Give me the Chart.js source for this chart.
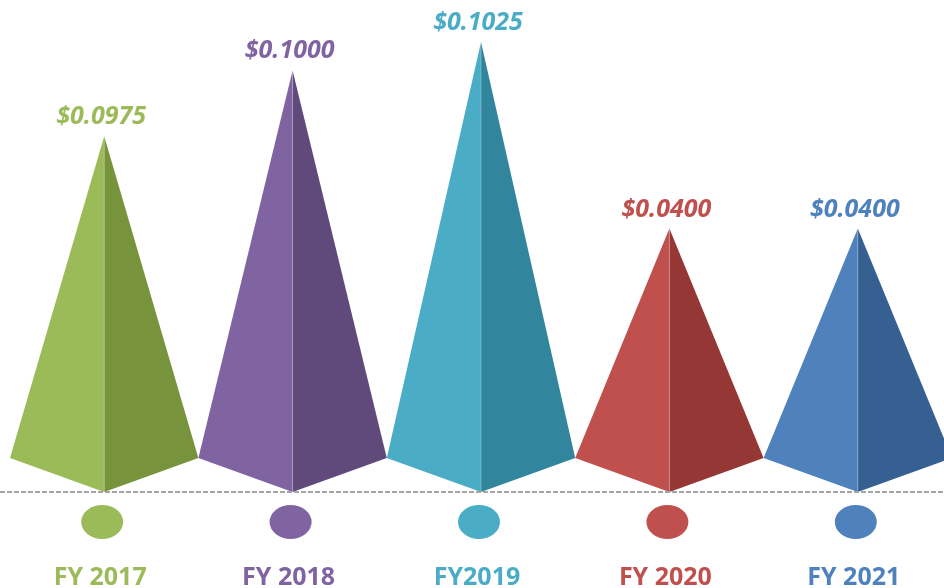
<!DOCTYPE html>
<html>
<head>
<meta charset="utf-8">
<script src="https://cdn.jsdelivr.net/npm/chart.js@4/dist/chart.umd.min.js"></script>
<style>
  html, body { margin: 0; padding: 0; background: #fff; overflow: hidden; }
  #wrap { width: 952px; height: 588px; position: relative; }
</style>
</head>
<body>
<div id="wrap"><canvas id="chart"></canvas></div>
<script>
// Dividend per year, as printed above each pyramid
const years     = ['FY 2017', 'FY 2018', 'FY2019', 'FY 2020', 'FY 2021'];
const dividends = [0.0975, 0.1000, 0.1025, 0.0400, 0.0400];
// Apex heights as drawn in the picture (the shapes are not to scale with the dividends)
const pyramidHeight = [0.081, 0.096, 0.1025, 0.060, 0.060];

const lightColors = ['#9BBB59', '#8064A2', '#4BACC6', '#C0504D', '#4F81BD'];
const darkColors  = ['#77933C', '#604A7B', '#31859C', '#953735', '#366092'];

const FONT = "'Open Sans', 'Liberation Sans', sans-serif";

// draws each bar element as a two-faced pyramid, plus the baseline, dots and labels
const pyramidPlugin = {
    id: 'pyramids',
    afterDatasetsDraw(chart) {
        const ctx  = chart.ctx;
        const meta = chart.getDatasetMeta(0);
        const xs   = chart.scales.x;
        const base = chart.scales.y.getPixelForValue(0);
        const depth = 34;

        ctx.save();

        meta.data.forEach((bar, i) => {
            const { x, y, width } = bar.getProps(['x', 'y', 'width'], true);
            const half = width / 2;

            // left (lit) face
            ctx.fillStyle = lightColors[i];
            ctx.beginPath();
            ctx.moveTo(x, y);
            ctx.lineTo(x - half, base - depth);
            ctx.lineTo(x, base);
            ctx.closePath();
            ctx.fill();

            // right (shaded) face
            ctx.fillStyle = darkColors[i];
            ctx.beginPath();
            ctx.moveTo(x, y);
            ctx.lineTo(x, base);
            ctx.lineTo(x + half, base - depth);
            ctx.closePath();
            ctx.fill();

            // faint highlight on the front edge
            ctx.strokeStyle = 'rgba(255,255,255,0.25)';
            ctx.lineWidth = 1;
            ctx.beginPath();
            ctx.moveTo(x, y);
            ctx.lineTo(x, base);
            ctx.stroke();

            // value label
            ctx.fillStyle = lightColors[i];
            ctx.font = `italic bold 25px ${FONT}`;
            ctx.textAlign = 'center';
            ctx.textBaseline = 'alphabetic';
            ctx.fillText('$' + dividends[i].toFixed(4), x - 3, y - 12);
        });

        // dashed baseline
        ctx.strokeStyle = '#A6A6A6';
        ctx.lineWidth = 2;
        ctx.setLineDash([5, 2]);
        ctx.beginPath();
        ctx.moveTo(0, base);
        ctx.lineTo(chart.width, base);
        ctx.stroke();
        ctx.setLineDash([]);

        years.forEach((label, i) => {
            const x = xs.getPixelForValue(i);

            ctx.fillStyle = lightColors[i];
            ctx.beginPath();
            ctx.ellipse(x - 2, base + 30, 21, 17, 0, 0, Math.PI * 2);
            ctx.fill();

            ctx.font = `bold 25px ${FONT}`;
            ctx.textAlign = 'center';
            ctx.textBaseline = 'alphabetic';
            ctx.fillText(label, x - 4, base + 93);
        });

        ctx.restore();
    },
};

new Chart(document.getElementById('chart'), {
    type: 'bar',
    data: {
        labels: years,
        datasets: [{
            data: pyramidHeight,
            backgroundColor: 'rgba(0,0,0,0)',
            borderWidth: 0,
            categoryPercentage: 1.0,
            barPercentage: 1.0,
        }],
    },
    options: {
        responsive: true,
        maintainAspectRatio: false,
        animation: false,
        layout: { padding: { left: 10, right: 0, top: 9, bottom: 96 } },
        plugins: {
            legend: { display: false },
            tooltip: { enabled: false },
        },
        scales: {
            x: { display: false },
            y: { display: false, min: 0, max: 0.11 },
        },
    },
    plugins: [pyramidPlugin],
});
</script>
</body>
</html>
